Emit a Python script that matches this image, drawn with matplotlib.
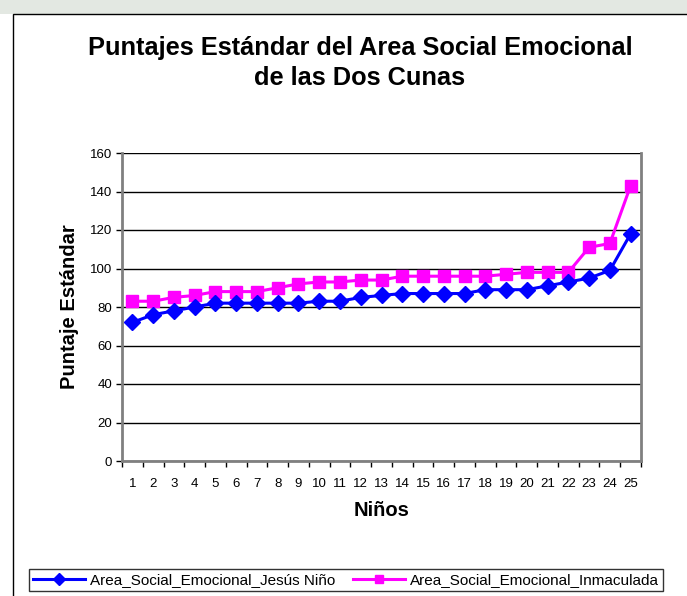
import numpy as np
import matplotlib
matplotlib.use('Agg')
import matplotlib.pyplot as plt
from matplotlib.patches import Rectangle

plt.rcParams['font.family'] = ['Liberation Sans', 'DejaVu Sans']

# Data
ninos = list(range(1, 26))
jesus_nino = [72, 76, 78, 80, 82, 82, 82, 82, 82, 83, 83, 85, 86, 87, 87, 87, 87,
              89, 89, 89, 91, 93, 95, 99, 118]
inmaculada = [83, 83, 85, 86, 88, 88, 88, 90, 92, 93, 93, 94, 94, 96, 96, 96, 96,
              96, 97, 98, 98, 98, 111, 113, 143]
y_ticks = [0, 20, 40, 60, 80, 100, 120, 140, 160]

title = 'Puntajes Estándar del Area Social Emocional\nde las Dos Cunas'
label_a = 'Area_Social_Emocional_Jesús Niño'
label_b = 'Area_Social_Emocional_Inmaculada'

W, H = 687, 596
fig = plt.figure(figsize=(W / 100, H / 100), dpi=100)

# faint page background at the very top + chart area border
fig.patches.append(Rectangle((0, 1 - 14 / H), 1, 14 / H, transform=fig.transFigure,
                             facecolor='#e3e8e2', edgecolor='none', zorder=0))
fig.patches.append(Rectangle((13 / W, -0.1), 1.1, 1.1 - 14 / H, transform=fig.transFigure,
                             facecolor='white', edgecolor='black', lw=1, zorder=1))

ax = fig.add_axes([122 / W, 1 - 461 / H, (641 - 122) / W, (461 - 153) / H])
ax.set_zorder(2)

ax.plot(ninos, jesus_nino, color='#0000ff', lw=2.2, marker='D', ms=8,
        label=label_a, zorder=4, clip_on=False)
ax.plot(ninos, inmaculada, color='#ff00ff', lw=2.2, marker='s', ms=8,
        label=label_b, zorder=3, clip_on=False)

ax.set_xlim(0.5, 25.5)
ax.set_ylim(0, 160)
ax.set_yticks(y_ticks)
ax.set_xticks(ninos)
ax.set_xticks(np.arange(0.5, 26, 1), minor=True)
ax.tick_params(axis='x', which='major', length=0, pad=12, labelsize=9.5)
ax.tick_params(axis='x', which='minor', length=4, width=1, color='black')
ax.tick_params(axis='y', length=4, width=1, labelsize=9.5, pad=3)
ax.yaxis.grid(True, color='black', lw=1)
ax.set_axisbelow(True)

for side in ['left', 'bottom', 'right', 'top']:
    ax.spines[side].set_color('#808080')
    ax.spines[side].set_linewidth(2)
ax.spines['top'].set_visible(False)

ax.set_ylabel('Puntaje Estándar', fontsize=14.5, fontweight='bold', labelpad=8)
ax.set_xlabel('Niños', fontsize=14.5, fontweight='bold', labelpad=8)

fig.text(360 / W, 1 - 63 / H, title, ha='center', va='center', fontsize=18.3,
         fontweight='bold', linespacing=1.35)

leg = fig.legend(loc='center', bbox_to_anchor=(346 / W, 1 - 580 / H), ncol=2,
                 fontsize=11, frameon=True, fancybox=False, edgecolor='black',
                 handlelength=3.4, handletextpad=0.3, columnspacing=1.2,
                 borderpad=0.25, markerscale=0.8)
leg.get_frame().set_linewidth(1)

fig.savefig('out.png', dpi=100)
